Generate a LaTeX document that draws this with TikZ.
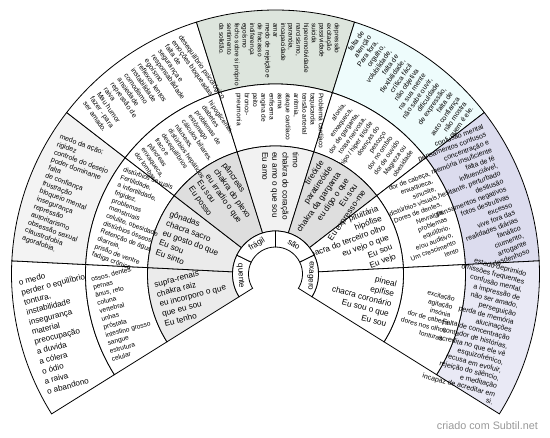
\documentclass[tikz,border=0pt]{standalone}
\usepackage{fontspec}
\setmainfont{Liberation Sans}
\definecolor{cA}{HTML}{EBEBEB}
\definecolor{cB}{HTML}{DEDEDE}
\definecolor{cC}{HTML}{F2F2F2}
\definecolor{cD}{HTML}{F3F3F3}
\definecolor{cE}{HTML}{DDE5DD}
\definecolor{cF}{HTML}{EEFCFC}
\definecolor{cG}{HTML}{DCDCEE}
\definecolor{cH}{HTML}{E9E9F5}
\definecolor{cFoot}{HTML}{999999}
\newcommand\mysec[5]{\draw[secline, fill=#1] (#2:#4pt) arc[start angle=#2, end angle=#3, radius=#4pt] -- (#3:#5pt) arc[start angle=#3, end angle=#2, radius=#5pt] -- cycle;}
\begin{document}
\begin{tikzpicture}[x=1pt,y=1pt,
  secline/.style={draw=black,line width=0.8pt},
  tl/.style={anchor=west,align=left,inner sep=0pt},
  tr/.style={anchor=east,align=right,inner sep=0pt},
  fchk/.style={font=\fontsize{8.2}{10.2}\selectfont},
  fbig/.style={font=\fontsize{8.1}{10.2}\selectfont},
  fout/.style={font=\fontsize{7}{8.3}\selectfont},
  ftop/.style={font=\fontsize{6.5}{7.7}\selectfont},
  fmid/.style={font=\fontsize{6.6}{8.2}\selectfont},
  flab/.style={font=\fontsize{8}{9}\selectfont}]
\useasboundingbox[fill=white] (-275.5,-164) rectangle (274.5,274);
% outer ring
\mysec{white}{212}{177.143}{190}{264}
\mysec{cD}{177.143}{142.286}{190}{264}
\mysec{white}{142.286}{107.429}{190}{264}
\mysec{cE}{107.429}{72.571}{190}{264}
\mysec{cF}{72.571}{37.714}{190}{264}
\mysec{cG}{37.714}{2.857}{190}{264}
\mysec{cH}{2.857}{-32}{190}{264}
% middle ring
\mysec{white}{212}{177.143}{128}{190}
\mysec{white}{177.143}{142.286}{128}{190}
\mysec{white}{142.286}{107.429}{128}{190}
\mysec{white}{107.429}{72.571}{128}{190}
\mysec{white}{72.571}{37.714}{128}{190}
\mysec{white}{37.714}{2.857}{128}{190}
\mysec{white}{2.857}{-32}{128}{190}
% chakra ring
\mysec{cA}{212}{177.143}{43}{128}
\mysec{cA}{177.143}{142.286}{43}{128}
\mysec{cB}{142.286}{107.429}{43}{128}
\mysec{cC}{107.429}{72.571}{43}{128}
\mysec{cB}{72.571}{37.714}{43}{128}
\mysec{white}{37.714}{2.857}{43}{128}
\mysec{white}{2.857}{-32}{43}{128}

% outer ring texts
\node[tl,fbig,rotate=14.571] (o1) at (194.571:250.7pt) {o medo\\perder o equilíbrio\\tontura,\\instabilidade\\insegurança\\material\\preocupação\\a duvida\\a cólera\\o ódio\\a raiva\\o abandono};
\node[tl,fout,rotate=-20.286] (o2) at (159.714:250pt) {medo da ação;\\rigidez\\controle do desejo\\poder dominante\\falta\\de confiança\\frustração\\bloqueio mental\\insegurança\\repressão\\autoritarismo\\obsessão sexual\\claustrofobia\\agorafobia.};
\node[tl,fout,rotate=-55.143] (o3) at (124.857:250pt) {desequilíbrio psicológico\\emoções bloqueadas\\falta de\\segurança e\\responsabilidade\\egoísmo\\reflexos lentos\\instabilidade\\comodismo\\ansiedade\\repressão de\\raiva\\Mau humor\\fazer - para\\ser amado.};
\node[tl,ftop,rotate=-90] (o4) at (4,251) {depressão\\excitação\\passividade\\suicida\\hiperemotividade\\narcisismo,\\paranóia,\\incapacidade\\amar\\medo de rejeição e\\de fracasso\\indiferença\\egoísmo\\fecho sobre si próprio\\sentimento\\da solidão.};
\node[tr,fout,rotate=55.143] (o5) at (55.143:249pt) {falta de\\atenção\\Para fora,\\orgulho,\\volubilidade,\\falta de\\flexibilidade,\\crítica fácil\\não objetiva\\na sua mente\\não sabe ouvir,\\dificuldade\\de expressão,\\falta de\\auto confiança\\não mostra\\quem é ele.};
\node[tr,fout,rotate=20.286] (o6) at (20.286:246pt) {confusão mental\\pensamentos confusos\\concentração e\\memória insuficiente\\falta de fé\\influenciável,\\hesitante, perturbado\\desilusão\\pensamentos negativos\\fotos destrutivas\\excesso\\vive fora das\\realidades diárias\\fanático\\ciumento,\\arrogante\\desdenhoso};
\node[tr,fout,rotate=-14.571] (o7) at (-15.3:243pt) {estado deprimido\\omissões frequentes\\confusão mental,\\a impressão de\\não ser amado,\\perseguição\\perda de memória\\alucinações\\Falta de concentração\\contador de histórias,\\acredita no que ele vê\\esquizofrénico,\\recusa em evoluir,\\rejeição do silêncio,\\e meditação\\incapaz de acreditar em\\si.};

% middle ring texts
\node[tl,fmid,rotate=14.571] (m1) at (194.571:180pt) {ossos, dentes\\pernas\\ânus, reto\\coluna\\vertebral\\unhas\\próstata\\intestino grosso\\sangue\\estrutura\\celular};
\node[tl,fmid,rotate=-20.286] (m2) at (159.714:179pt) {distúrbios sexuais\\Fertilidade,\\a infertilidade,\\frigidez,\\problemas\\menstruais\\celulite, obesidade\\distúrbios ósseos\\Retenção de água\\diarreia,\\prisão de ventre\\fadiga crônica.};
\node[tl,fmid,rotate=-55.143] (m3) at (124.857:179pt) {hipoglicemia,\\diabetes\\problemas de\\estômago\\cálculos biliares,\\náuseas,\\distúrbios hepáticos\\desequilíbrios\\fraco e\\pâncreas\\enxaqueca,\\dor lombar.};
\node[tl,fmid,rotate=-90] (m4) at (4,181) {Problema cardíaco\\taquicardia\\tensão arterial\\arritmia,\\ataque cardíaco\\asma\\enfisema\\angina de\\peito\\bronco-\\pneumonia};
\node[tr,fmid,rotate=55.143] (m5) at (55.143:179pt) {afonia,\\enxaqueca,\\dor de garganta,\\tosse nervosa,\\hipo / hiper tiróide\\doenças do\\pescoço\\dor no ombro\\dor de ouvido\\Magreza ou\\obesidade};
\node[tr,fmid,rotate=20.286] (m6) at (20.286:180pt) {dor de cabeça,\\enxaqueca,\\sinusite,\\distúrbios visuais,\\Dores de dentes,\\Nevralgia,\\problemas\\equilíbrio,\\e/ou auditivo,\\Um crescimento\\lento};
\node[tr,fmid,rotate=-14.571] (m7) at (-14.571:180pt) {excitação\\agitação\\insónia\\dor de cabeça\\dores nos olhos\\tonturas.};

% chakra texts
\node[tl,fchk,rotate=14.571] (k1) at (194.571:120pt) {supra-renais\\chakra raiz\\eu incorporo o que\\que eu sou\\Eu tenho};
\node[tl,fchk,rotate=-20.286] (k2) at (159.714:120pt) {gônadas\\chacra sacro\\eu gosto do que\\Eu sou\\Eu sinto};
\node[tl,fchk,rotate=-55.143] (k3) at (124.857:120pt) {pâncreas\\chakra do plexo\\eu irradio o que\\Eu sou\\Eu posso};
\node[tl,fchk,rotate=-90] (k4) at (5,122) {timo\\chakra do coração\\eu amo o que sou\\Eu amo};
\node[tr,fchk,rotate=55.143] (k5) at (55.143:119pt) {tireóide\\paratireóide\\chakra da garganta\\eu digo o que\\Eu sou\\Eu expresso-me};
\node[tr,fchk,rotate=20.286] (k6) at (20.286:119pt) {pituitária\\hipófise\\chacra do terceiro olho\\eu vejo o que\\Eu sou\\Eu vejo};
\node[tr,fchk,rotate=-14.571] (k7) at (-14.571:120pt) {pineal\\epífise\\chacra coronário\\Eu sou o que\\Eu sou};

% label ring
\fill[white] (0,0) circle[radius=27pt];
\mysec{white}{212}{154}{27}{43}
\mysec{white}{154}{90}{27}{43}
\mysec{white}{90}{26}{27}{43}
\mysec{white}{26}{-32}{27}{43}
\node[flab,rotate=-87,inner sep=0pt] (l1) at (183:35pt) {quente};
\node[flab,rotate=32,inner sep=0pt] (l2) at (122:35pt) {frágil};
\node[flab,rotate=-32,inner sep=0pt] (l3) at (58:35pt) {são};
\node[flab,rotate=-93,inner sep=0pt] (l4) at (-3:35pt) {exagero};

\node[anchor=east,inner sep=0pt,text=cFoot,font=\fontsize{10.8}{12}\selectfont] (foot) at (262.5,-152) {criado com Subtil.net};
\end{tikzpicture}
\end{document}
